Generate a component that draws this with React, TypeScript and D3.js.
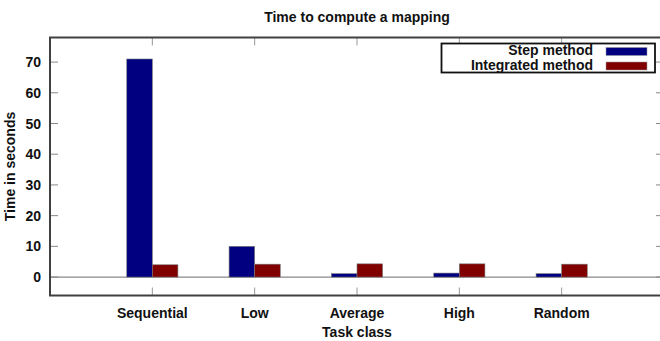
import React from "react";
import * as d3 from "d3";

const categories = ["Sequential", "Low", "Average", "High", "Random"];
const stepMethod = [71, 10, 1.1, 1.3, 1.1];
const integratedMethod = [4.0, 4.2, 4.3, 4.3, 4.2];
const yTicks = [0, 10, 20, 30, 40, 50, 60, 70];
const seriesNames = ["Step method", "Integrated method"];
const seriesColors = ["#000080", "#800000"];

const W = 660;
const H = 341;
const left = 50;
const right = 664;
const top = 37.5;
const bottom = 295.5;
const font = "'Liberation Sans', Arial, Helvetica, sans-serif";

export default function App() {
  const x = d3.scaleLinear().domain([-1, 5]).range([left, right]);
  const y = d3.scaleLinear().domain([-6, 78]).range([bottom, top]);
  const bw = 0.25;
  const series = [stepMethod, integratedMethod];
  const tickLen = 8;
  const txt = { fontFamily: font, fontSize: 14, fontWeight: 700, fill: "#111" } as const;

  return (
    <svg
      width={W}
      height={H}
      style={{ position: "absolute", left: 0, top: 0, background: "#fff", display: "block" }}
    >
      <rect x={0} y={0} width={W} height={H} fill="#fff" />
      <text x={(left + right) / 2} y={22} textAnchor="middle" {...txt}>
        Time to compute a mapping
      </text>

      {/* zero line */}
      <line x1={left} x2={right} y1={y(0)} y2={y(0)} stroke="#888" strokeWidth={1.2} />

      {/* bars */}
      {series.map((vals, si) =>
        vals.map((v, i) => {
          const x0 = x(i + (si === 0 ? -bw : 0));
          const x1 = x(i + (si === 0 ? 0 : bw));
          return (
            <rect
              key={si + "-" + i}
              x={x0}
              y={y(v)}
              width={x1 - x0}
              height={y(0) - y(v)}
              fill={seriesColors[si]}
              stroke="#777"
              strokeWidth={0.6}
            />
          );
        })
      )}

      {/* y ticks */}
      {yTicks.map((t) => (
        <g key={"y" + t}>
          <line x1={left} x2={left + tickLen} y1={y(t)} y2={y(t)} stroke="#888" strokeWidth={1} />
          <line x1={right - tickLen} x2={right} y1={y(t)} y2={y(t)} stroke="#888" strokeWidth={1} />
          <text x={41} y={y(t)} dy="0.36em" textAnchor="end" {...txt}>
            {t}
          </text>
        </g>
      ))}

      {/* x ticks */}
      {categories.map((c, i) => (
        <g key={c}>
          <line x1={x(i)} x2={x(i)} y1={bottom} y2={bottom - tickLen} stroke="#999" strokeWidth={1} />
          <line x1={x(i)} x2={x(i)} y1={top} y2={top + tickLen} stroke="#999" strokeWidth={1} />
          <text x={x(i)} y={318} textAnchor="middle" {...txt}>
            {c}
          </text>
        </g>
      ))}

      {/* frame */}
      <rect
        x={left}
        y={top}
        width={right - left}
        height={bottom - top}
        fill="none"
        stroke="#404040"
        strokeWidth={2}
      />

      {/* axis labels */}
      <text x={(left + right) / 2} y={337} textAnchor="middle" {...txt}>
        Task class
      </text>
      <text
        transform={`translate(14.5, ${(top + bottom) / 2}) rotate(-90)`}
        textAnchor="middle"
        {...txt}
      >
        Time in seconds
      </text>

      {/* legend */}
      <rect x={441.5} y={43.5} width={213.5} height={29} fill="#fff" stroke="#111" strokeWidth={1.8} />
      {seriesNames.map((n, i) => (
        <g key={n}>
          <text x={593} y={54.5 + i * 15} textAnchor="end" {...txt}>
            {n}
          </text>
          <rect x={606} y={47.5 + i * 14.5} width={41} height={8} fill={seriesColors[i]} stroke="#999" strokeWidth={0.5} />
        </g>
      ))}
    </svg>
  );
}
